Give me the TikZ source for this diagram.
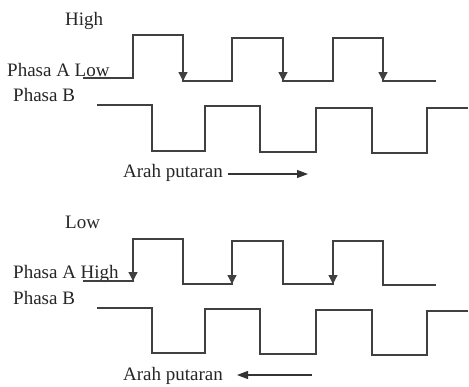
\documentclass[tikz,border=0pt]{standalone}
\usepackage{fontspec}
\setmainfont{Liberation Serif}
\usetikzlibrary{arrows.meta}
\tikzset{
  lbl/.style={anchor=base west, inner sep=0pt, font=\fontsize{19}{21}\selectfont, text=black!85},
  wave/.style={line width=1.3pt, draw=black!75},
  edgearrow/.style={line width=1.3pt, draw=black!75, -{Triangle[width=9pt,length=9pt]}},
  dirarrow/.style={line width=1.1pt, draw=black!80, -{Triangle[width=8pt,length=11pt]}}
}
\begin{document}
\begin{tikzpicture}[x=1pt,y=-1pt]
  \useasboundingbox (0,0) rectangle (469,386);
  % clockwise
  \draw
    (65,25) node[lbl] (high) {High}
    (7,76) node[lbl] (pa1) {Phasa A Low}
    (13,101) node[lbl] (pb1) {Phasa B}
    (123,177) node[lbl] (ar1) {Arah putaran};
  \draw[wave] (83,78) -- (133,78) -- (133,35) -- (183,35) coordinate (t1)
    -- (183,81) coordinate (b1) -- (232,81) -- (232,38) -- (283,38) coordinate (t2)
    -- (283,81) coordinate (b2) -- (333,81) -- (333,38) -- (383,38) coordinate (t3)
    -- (383,81) coordinate (b3) -- (436,81);
  \draw[wave] (97,105) -- (152,105) -- (152,151) -- (205,151) -- (205,106)
    -- (260,106) -- (260,152) -- (316,152) -- (316,108) -- (372,108)
    -- (372,153) -- (427,153) -- (427,108) -- (468,108);
  \begin{scope}[edgearrow]
    \draw (t1) to (b1);
    \draw (t2) to (b2);
    \draw (t3) to (b3);
  \end{scope}
  \coordinate (r1s) at (228,174);
  \coordinate (r1e) at (308,174);
  \draw[dirarrow] (r1s) -- (r1e);
  % counter clockwise
  \draw
    (65,228) node[lbl] (low) {Low}
    (13,278) node[lbl] (pa2) {Phasa A High}
    (13,304) node[lbl] (pb2) {Phasa B}
    (123,380) node[lbl] (ar2) {Arah putaran};
  \draw[wave] (83,281) -- (133,281) coordinate (d1) -- (133,239) coordinate (u1)
    -- (183,239) -- (183,284) -- (232,284) coordinate (d2) -- (232,241) coordinate (u2)
    -- (283,241) -- (283,284) -- (333,284) coordinate (d3) -- (333,241) coordinate (u3)
    -- (383,241) -- (383,285) -- (436,285);
  \draw[wave] (97,308) -- (152,308) -- (152,353) -- (205,353) -- (205,309)
    -- (260,309) -- (260,354) -- (316,354) -- (316,310) -- (372,310)
    -- (372,355) -- (427,355) -- (427,311) -- (468,311);
  \begin{scope}[edgearrow]
    \draw (u1) to (d1);
    \draw (u2) to (d2);
    \draw (u3) to (d3);
  \end{scope}
  \coordinate (r2s) at (312,375);
  \coordinate (r2e) at (237,375);
  \draw[dirarrow] (r2s) -- (r2e);
\end{tikzpicture}
\end{document}
